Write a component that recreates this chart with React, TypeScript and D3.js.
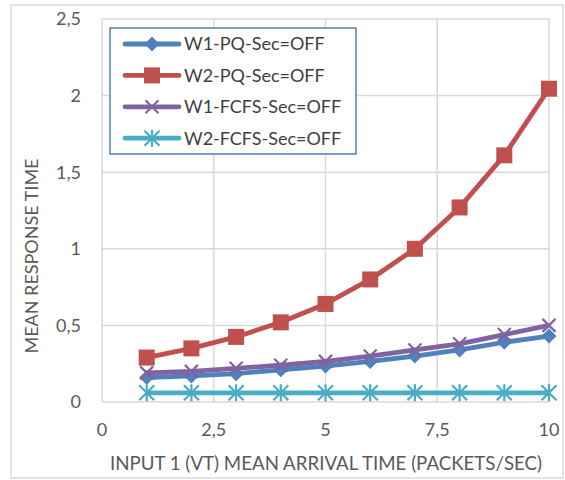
import React from 'react';
import * as d3 from 'd3';

const arrivalTimes = [1, 2, 3, 4, 5, 6, 7, 8, 9, 10];
const w1PqOff = [0.16, 0.17, 0.185, 0.21, 0.235, 0.265, 0.3, 0.34, 0.39, 0.43];
const w2PqOff = [0.29, 0.35, 0.425, 0.52, 0.64, 0.8, 1.0, 1.27, 1.61, 2.045];
const w1FcfsOff = [0.19, 0.2, 0.22, 0.24, 0.265, 0.3, 0.34, 0.38, 0.44, 0.5];
const w2FcfsOff = [0.06, 0.06, 0.06, 0.06, 0.06, 0.06, 0.06, 0.06, 0.06, 0.06];
const xTicks = [0, 2.5, 5, 7.5, 10];
const yTicks = [0, 0.5, 1, 1.5, 2, 2.5];

const seriesList = [
  {name: 'W1-PQ-Sec=OFF', values: w1PqOff, color: '#4F81BD', marker: 'diamond'},
  {name: 'W2-PQ-Sec=OFF', values: w2PqOff, color: '#C0504D', marker: 'square'},
  {name: 'W1-FCFS-Sec=OFF', values: w1FcfsOff, color: '#8064A2', marker: 'x'},
  {name: 'W2-FCFS-Sec=OFF', values: w2FcfsOff, color: '#4BACC6', marker: 'star'},
];

const FONT = 'Lato, "Open Sans", sans-serif';
const fmt = (v: number) => String(v).replace('.', ',');

const Marker = ({kind, x, y, color}: {kind: string, x: number, y: number, color: string}) => {
  if (kind === 'diamond') {
    const s = 7.5;
    return <path d={`M${x},${y - s}L${x + s},${y}L${x},${y + s}L${x - s},${y}Z`} fill={color} />;
  }
  if (kind === 'square') {
    const s = 8;
    return <rect x={x - s} y={y - s} width={s * 2} height={s * 2} fill={color} />;
  }
  if (kind === 'x') {
    const s = 6.5;
    return <path d={`M${x - s},${y - s}L${x + s},${y + s}M${x - s},${y + s}L${x + s},${y - s}`}
                 stroke={color} strokeWidth={2.2} fill="none" />;
  }
  const s = 7.5;
  return <path d={`M${x - s},${y - s}L${x + s},${y + s}M${x - s},${y + s}L${x + s},${y - s}M${x},${y - s - 1}L${x},${y + s + 1}`}
               stroke={color} strokeWidth={2.2} fill="none" />;
};

export default function App() {
  const xScale = d3.scaleLinear().domain([0, 10]).range([102, 549]);
  const yScale = d3.scaleLinear().domain([0, 2.5]).range([402, 19]);
  const line = d3.line<number>()
      .x((_, i) => xScale(arrivalTimes[i]))
      .y((d) => yScale(d));

  return (
    <svg width={565} height={480} style={{position: 'absolute', left: 0, top: 0}}>
      <rect x={0} y={0} width={565} height={480} fill="#fff" />
      <rect x={11} y={5} width={552} height={473} fill="#fff" stroke="#D9D9D9" strokeWidth={1.5} />

      {yTicks.map((t) => (
        <g key={`y${t}`}>
          <line x1={xScale(0)} x2={xScale(10)} y1={yScale(t)} y2={yScale(t)} stroke="#D9D9D9" strokeWidth={1.5} />
          <text x={81} y={yScale(t)} dy="0.35em" textAnchor="end" fontFamily={FONT} fontSize={18} fill="#595959">{fmt(t)}</text>
        </g>
      ))}
      {xTicks.map((t) => (
        <g key={`x${t}`}>
          <line x1={xScale(t)} x2={xScale(t)} y1={yScale(0)} y2={yScale(2.5)} stroke="#D9D9D9" strokeWidth={1.5} />
          <text x={xScale(t)} y={430} dy="0.35em" textAnchor="middle" fontFamily={FONT} fontSize={18} fill="#595959">{fmt(t)}</text>
        </g>
      ))}

      {seriesList.map((s) => (
        <g key={s.name}>
          <path d={line(s.values) || ''} fill="none" stroke={s.color} strokeWidth={4.8} strokeLinejoin="round" />
          {s.values.map((v, i) => (
            <Marker key={i} kind={s.marker} x={xScale(arrivalTimes[i])} y={yScale(v)} color={s.color} />
          ))}
        </g>
      ))}

      <text x={326} y={463} dy="0.35em" textAnchor="middle" fontFamily={FONT} fontSize={18.7} fill="#595959">
        INPUT 1 (VT) MEAN ARRIVAL TIME (PACKETS/SEC)
      </text>
      <text transform="translate(32,256) rotate(-90)" dy="0.35em" textAnchor="middle" fontFamily={FONT} fontSize={18} fill="#595959">
        MEAN RESPONSE TIME
      </text>

      <rect x={110} y={28} width={246} height={126} fill="#fff" stroke="#4F81BD" strokeWidth={1.5} />
      {seriesList.map((s, i) => {
        const ly = 44 + i * 31.4;
        return (
          <g key={`lg${s.name}`}>
            <line x1={125} x2={179} y1={ly} y2={ly} stroke={s.color} strokeWidth={4.8} strokeLinecap="round" />
            <Marker kind={s.marker} x={152} y={ly} color={s.color} />
            <text x={184} y={ly} dy="0.35em" fontFamily={FONT} fontSize={18} fill="#404040">{s.name}</text>
          </g>
        );
      })}
    </svg>
  );
}
